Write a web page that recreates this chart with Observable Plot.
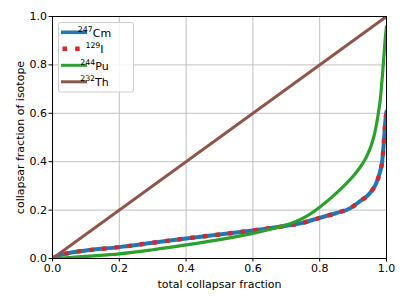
<!DOCTYPE html>
<html><head><meta charset="utf-8">
<script src="https://cdn.jsdelivr.net/npm/d3@7"></script>
<script src="https://cdn.jsdelivr.net/npm/@observablehq/plot@0.6"></script>
<style>
body{margin:0;background:#fff}
#chart svg{font-family:"DejaVu Sans",sans-serif;display:block}
</style>
</head><body><div id="chart"></div>
<script>
const xTicks = [0, 0.2, 0.4, 0.6, 0.8, 1.0];
const yTicks = [0, 0.2, 0.4, 0.6, 0.8, 1.0];

const cmX = [0, 0.02, 0.05, 0.1, 0.2, 0.3, 0.4, 0.5, 0.6, 0.7, 0.75, 0.8, 0.85, 0.89, 0.92, 0.95, 0.97, 0.98, 0.987, 0.991, 0.995, 0.998, 1.0];
const cmY = [0, 0.013, 0.023, 0.033, 0.047, 0.065, 0.083, 0.099, 0.116, 0.135, 0.148, 0.168, 0.188, 0.207, 0.236, 0.27, 0.313, 0.355, 0.40, 0.46, 0.54, 0.59, 0.607];

const iX = [0, 0.02, 0.05, 0.1, 0.2, 0.3, 0.4, 0.5, 0.6, 0.7, 0.75, 0.8, 0.85, 0.89, 0.92, 0.95, 0.97, 0.98, 0.987, 0.991, 0.995, 0.998, 1.0];
const iY = [0, 0.013, 0.023, 0.033, 0.047, 0.065, 0.083, 0.099, 0.116, 0.135, 0.148, 0.168, 0.188, 0.207, 0.236, 0.27, 0.313, 0.355, 0.40, 0.46, 0.54, 0.585, 0.598];

const puX = [0, 0.05, 0.1, 0.2, 0.3, 0.4, 0.5, 0.6, 0.65, 0.7, 0.72, 0.76, 0.8, 0.85, 0.88, 0.9, 0.92, 0.94, 0.955, 0.965, 0.975, 0.982, 0.988, 0.993, 0.997, 1.0];
const puY = [0, 0.004, 0.009, 0.019, 0.036, 0.056, 0.078, 0.104, 0.12, 0.139, 0.148, 0.174, 0.212, 0.27, 0.31, 0.34, 0.375, 0.42, 0.47, 0.52, 0.595, 0.665, 0.76, 0.85, 0.92, 0.958];

const thX = [0, 1.0];
const thY = [0, 1.0];

const seriesNames = ["247|Cm", "129|I", "244|Pu", "232|Th"];
const seriesColors = ["#1f77b4", "#d62728", "#2ca02c", "#8c564b"];

const toRows = (xs, ys) => xs.map((x, i) => ({x, y: ys[i]}));

const gridStyle = {stroke: "#b0b0b0", strokeOpacity: 1, strokeWidth: 0.8};
const FS = 11;

const chart = Plot.plot({
  width: 407,
  height: 305,
  marginLeft: 52,
  marginRight: 21,
  marginTop: 16,
  marginBottom: 47,
  style: {fontFamily: "DejaVu Sans", fontSize: FS + "px", color: "#000", background: "#fff"},
  x: {domain: [0, 1]},
  y: {domain: [0, 1]},
  marks: [
    Plot.gridX(xTicks, gridStyle),
    Plot.gridY(yTicks, gridStyle),
    Plot.line(toRows(cmX, cmY), {x: "x", y: "y", stroke: seriesColors[0], strokeWidth: 4, curve: "monotone-x", clip: true}),
    Plot.line(toRows(iX, iY), {x: "x", y: "y", stroke: seriesColors[1], strokeWidth: 4.4, strokeDasharray: "4.5,8.2", strokeLinecap: "butt", curve: "monotone-x", clip: true}),
    Plot.line(toRows(puX, puY), {x: "x", y: "y", stroke: seriesColors[2], strokeWidth: 3.2, curve: "monotone-x", clip: true}),
    Plot.line(toRows(thX, thY), {x: "x", y: "y", stroke: seriesColors[3], strokeWidth: 3, clip: true}),
    Plot.frame({stroke: "#000", strokeWidth: 1}),
    Plot.axisX(xTicks, {tickSize: 3.5, tickPadding: 2, tickFormat: d3.format(".1f"), fontSize: FS,
      label: "total collapsar fraction", labelAnchor: "center", labelArrow: "none", labelOffset: 29}),
    Plot.axisY(yTicks, {tickSize: 3.5, tickPadding: 2, tickFormat: d3.format(".1f"), fontSize: FS,
      label: "collapsar fraction of isotope", labelAnchor: "center", labelArrow: "none", labelOffset: 36})
  ]
});
document.getElementById("chart").appendChild(chart);

// Legend (upper left, inside the axes)
const svg = d3.select(chart);
const lg = svg.append("g").attr("transform", "translate(58.5,22.5)");
lg.append("rect").attr("width", 75).attr("height", 69.5).attr("rx", 2)
  .attr("fill", "#fff").attr("fill-opacity", 0.8).attr("stroke", "#cccccc").attr("stroke-width", 1);
seriesNames.forEach((name, i) => {
  const [sup, el] = name.split("|");
  const cy = 9.8 + i * 16.5;
  const ln = lg.append("line").attr("x1", 2.5).attr("x2", 28.5).attr("y1", cy).attr("y2", cy)
    .attr("stroke", seriesColors[i]).attr("stroke-width", i === 1 ? 4.4 : (i === 0 ? 3.6 : 3));
  if (i === 1) ln.attr("stroke-dasharray", "4.5,8.2").attr("x1", 4);
  const t = lg.append("text").attr("x", 36).attr("y", cy + 4.3)
    .attr("font-family", "DejaVu Sans").attr("font-size", FS).attr("fill", "#000");
  t.append("tspan").attr("font-size", 7.8).attr("dy", -5).text(sup);
  t.append("tspan").attr("dy", 5).text(el);
});
</script>
</body></html>
